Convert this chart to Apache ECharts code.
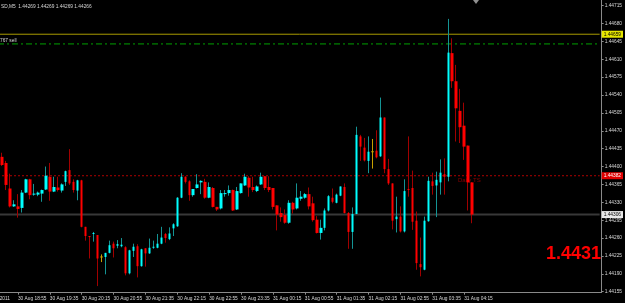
<!DOCTYPE html>
<html>
<head>
<meta charset="utf-8">
<script src="https://cdn.jsdelivr.net/npm/echarts@6/dist/echarts.min.js"></script>
<style>
  html, body { margin: 0; padding: 0; background: #000; }
  #chart { width: 625px; height: 303px; }
</style>
</head>
<body>
<div id="chart"></div>
<script>
// M5 bars, 30 Aug 18:35 -> 31 Aug 04:25
const openPrices = [
  1.44419, 1.44407, 1.44357, 1.44322, 1.44322, 1.44319, 1.44349, 1.44375, 1.44345, 1.44345,
  1.44347, 1.44355, 1.44380, 1.44351, 1.44359, 1.44353, 1.44370, 1.44393, 1.44370, 1.44353,
  1.44373, 1.44282, 1.44264, 1.44268, 1.44266, 1.44223, 1.44223, 1.44231, 1.44249, 1.44245,
  1.44244, 1.44242, 1.44191, 1.44235, 1.44244, 1.44205, 1.44240, 1.44230, 1.44241, 1.44241,
  1.44249, 1.44268, 1.44258, 1.44279, 1.44283, 1.44339, 1.44380, 1.44371, 1.44344, 1.44358,
  1.44369, 1.44370, 1.44339, 1.44358, 1.44321, 1.44318, 1.44346, 1.44348, 1.44354, 1.44316,
  1.44348, 1.44363, 1.44378, 1.44360, 1.44352, 1.44365, 1.44381, 1.44360, 1.44358, 1.44324,
  1.44309, 1.44305, 1.44290, 1.44329, 1.44318, 1.44337, 1.44339, 1.44346, 1.44328, 1.44296,
  1.44270, 1.44280, 1.44314, 1.44339, 1.44329, 1.44343, 1.44360, 1.44309, 1.44272, 1.44307,
  1.44459, 1.44437, 1.44411, 1.44429, 1.44431, 1.44420, 1.44496, 1.44395, 1.44367, 1.44297,
  1.44302, 1.44273, 1.44356, 1.44358, 1.44294, 1.44209, 1.44198, 1.44293, 1.44371, 1.44363,
  1.44369, 1.44385, 1.44380, 1.44622, 1.44567, 1.44509, 1.44480, 1.44441, 1.44369
];
const closePrices = [
  1.44403, 1.44364, 1.44322, 1.44326, 1.44317, 1.44349, 1.44375, 1.44344, 1.44347, 1.44349,
  1.44354, 1.44382, 1.44351, 1.44360, 1.44354, 1.44365, 1.44391, 1.44367, 1.44354, 1.44373,
  1.44282, 1.44264, 1.44262, 1.44270, 1.44220, 1.44223, 1.44231, 1.44246, 1.44240, 1.44248,
  1.44247, 1.44191, 1.44236, 1.44243, 1.44205, 1.44238, 1.44230, 1.44241, 1.44243, 1.44249,
  1.44261, 1.44260, 1.44269, 1.44287, 1.44339, 1.44380, 1.44370, 1.44344, 1.44356, 1.44365,
  1.44372, 1.44339, 1.44360, 1.44321, 1.44316, 1.44348, 1.44348, 1.44354, 1.44314, 1.44352,
  1.44367, 1.44380, 1.44359, 1.44354, 1.44361, 1.44380, 1.44358, 1.44354, 1.44321, 1.44306,
  1.44301, 1.44290, 1.44329, 1.44316, 1.44339, 1.44341, 1.44346, 1.44322, 1.44295, 1.44270,
  1.44280, 1.44314, 1.44342, 1.44331, 1.44345, 1.44361, 1.44309, 1.44272, 1.44307, 1.44462,
  1.44439, 1.44412, 1.44429, 1.44429, 1.44418, 1.44496, 1.44395, 1.44367, 1.44294, 1.44302,
  1.44273, 1.44352, 1.44354, 1.44292, 1.44211, 1.44203, 1.44294, 1.44372, 1.44362, 1.44374,
  1.44388, 1.44380, 1.44623, 1.44567, 1.44514, 1.44477, 1.44439, 1.44369, 1.44306
];
const lowPrices = [
  1.44401, 1.44354, 1.44320, 1.44321, 1.44300, 1.44310, 1.44348, 1.44336, 1.44343, 1.44342,
  1.44331, 1.44354, 1.44333, 1.44350, 1.44351, 1.44349, 1.44362, 1.44364, 1.44349, 1.44334,
  1.44281, 1.44255, 1.44220, 1.44253, 1.44166, 1.44213, 1.44189, 1.44230, 1.44222, 1.44240,
  1.44242, 1.44187, 1.44189, 1.44223, 1.44183, 1.44204, 1.44204, 1.44229, 1.44239, 1.44240,
  1.44248, 1.44251, 1.44256, 1.44264, 1.44282, 1.44338, 1.44367, 1.44333, 1.44341, 1.44357,
  1.44346, 1.44337, 1.44338, 1.44320, 1.44313, 1.44316, 1.44341, 1.44343, 1.44313, 1.44315,
  1.44347, 1.44362, 1.44341, 1.44350, 1.44350, 1.44364, 1.44354, 1.44350, 1.44316, 1.44275,
  1.44292, 1.44288, 1.44288, 1.44308, 1.44316, 1.44333, 1.44337, 1.44316, 1.44292, 1.44269,
  1.44257, 1.44275, 1.44312, 1.44328, 1.44328, 1.44342, 1.44308, 1.44239, 1.44239, 1.44307,
  1.44411, 1.44410, 1.44387, 1.44396, 1.44416, 1.44419, 1.44387, 1.44364, 1.44277, 1.44271,
  1.44271, 1.44271, 1.44341, 1.44276, 1.44198, 1.44185, 1.44197, 1.44292, 1.44345, 1.44301,
  1.44345, 1.44345, 1.44371, 1.44554, 1.44449, 1.44446, 1.44413, 1.44314, 1.44289
];
const highPrices = [
  1.44427, 1.44411, 1.44386, 1.44334, 1.44346, 1.44354, 1.44376, 1.44376, 1.44366, 1.44351,
  1.44355, 1.44400, 1.44407, 1.44380, 1.44380, 1.44367, 1.44392, 1.44434, 1.44375, 1.44374,
  1.44374, 1.44282, 1.44264, 1.44272, 1.44266, 1.44228, 1.44231, 1.44255, 1.44253, 1.44256,
  1.44260, 1.44244, 1.44237, 1.44249, 1.44248, 1.44239, 1.44240, 1.44259, 1.44255, 1.44268,
  1.44282, 1.44270, 1.44281, 1.44289, 1.44340, 1.44387, 1.44381, 1.44373, 1.44356, 1.44385,
  1.44373, 1.44376, 1.44369, 1.44360, 1.44321, 1.44354, 1.44354, 1.44363, 1.44355, 1.44360,
  1.44367, 1.44386, 1.44381, 1.44380, 1.44363, 1.44388, 1.44381, 1.44381, 1.44358, 1.44324,
  1.44320, 1.44316, 1.44334, 1.44331, 1.44367, 1.44352, 1.44348, 1.44359, 1.44341, 1.44303,
  1.44296, 1.44318, 1.44344, 1.44357, 1.44347, 1.44361, 1.44367, 1.44311, 1.44320, 1.44478,
  1.44462, 1.44456, 1.44459, 1.44454, 1.44471, 1.44535, 1.44496, 1.44415, 1.44367, 1.44341,
  1.44322, 1.44375, 1.44459, 1.44392, 1.44312, 1.44261, 1.44302, 1.44380, 1.44388, 1.44390,
  1.44414, 1.44416, 1.44689, 1.44651, 1.44599, 1.44552, 1.44525, 1.44441, 1.44369
];

// price axis ticks
const yMin = 1.44155;
const yMax = 1.44726;
const yStep = 0.00035;

// horizontal levels drawn on the chart
const levelYellow = 1.44659;
const levelGreen = 1.44640;
const levelRed = 1.44382;
const levelBid = 1.44306;

const headerText = 'SD,M5  1.44269 1.44269 1.44269 1.44266';
const sellText = '767 sell';
const dailyText = 'Daily TS';
const bigPriceText = '1.4431';
const firstDateText = '30 Aug 2011';

const slotCount = 151; // bars + empty chart shift on the right

const pad = n => (n < 10 ? '0' + n : '' + n);
const categories = [];
for (let i = 0; i < slotCount; i++) {
  if (i < openPrices.length) {
    const t = new Date(Date.UTC(2011, 7, 30, 18, 35 + 5 * i));
    categories.push(t.getUTCDate() + ' Aug ' + pad(t.getUTCHours()) + ':' + pad(t.getUTCMinutes()));
  } else {
    categories.push('');
  }
}

const UP = '#00ffff';
const DOWN = '#ff0000';
const UP_WICK = '#149494';
const DOWN_WICK = '#a00000';
const DOJI = '#c8a000';

const wickData = [];
const bodyData = [];
openPrices.forEach((o, i) => {
  const c = closePrices[i];
  const w = { value: [o, c, lowPrices[i], highPrices[i]] };
  const b = { value: [o, c, Math.min(o, c), Math.max(o, c)] };
  if (o === c) {
    w.itemStyle = { color: DOJI, color0: DOJI, borderColor: DOJI, borderColor0: DOJI };
    b.itemStyle = { color: DOJI, color0: DOJI, borderColor: DOJI, borderColor0: DOJI, borderWidth: 1 };
  }
  wickData.push(w);
  bodyData.push(b);
});

const FONT = 'Liberation Sans';
const tickShown = (idx, val) => val !== '' && idx >= 4 && (idx - 4) % 8 === 0;

// a horizontal level across the whole chart, with its price box on the axis
function levelSeries (name, value, lineStyle, box) {
  return {
    name: name,
    type: 'line',
    z: 1,
    silent: true,
    symbol: 'none',
    data: [[-1, value], [slotCount - 1, value]],
    lineStyle: lineStyle,
    endLabel: box ? {
      show: true,
      distance: 2,
      formatter: () => value.toFixed(5),
      backgroundColor: box.bg,
      color: box.fg,
      fontSize: 4.8,
      fontFamily: FONT,
      padding: [1, 2, 1, 2]
    } : { show: false }
  };
}

const chart = echarts.init(document.getElementById('chart'));
chart.setOption({
  backgroundColor: '#000',
  animation: false,
  grid: { left: -0.5, right: 22, top: 0, bottom: 11.3 },
  xAxis: {
    type: 'category',
    data: categories,
    boundaryGap: true,
    offset: 1,
    axisLine: { lineStyle: { color: '#8a8a8a', width: 1 } },
    axisTick: { show: true, interval: tickShown, alignWithLabel: true, length: 2, lineStyle: { color: '#8a8a8a' } },
    axisLabel: {
      interval: tickShown,
      align: 'left',
      color: '#d8d8d8',
      fontSize: 4.8,
      fontFamily: FONT,
      margin: 3
    },
    splitLine: { show: false }
  },
  yAxis: {
    type: 'value',
    position: 'right',
    min: yMin,
    max: yMax,
    interval: yStep,
    axisLine: { show: true, lineStyle: { color: '#8a8a8a', width: 1 } },
    axisTick: { show: true, length: 2, lineStyle: { color: '#8a8a8a' } },
    axisLabel: {
      showMaxLabel: false,
      color: '#d8d8d8',
      fontSize: 4.8,
      fontFamily: FONT,
      margin: 3,
      formatter: v => v.toFixed(5)
    },
    splitLine: { show: false }
  },
  series: [
    levelSeries('yellow', levelYellow, { color: '#a89a00', width: 1 }, { bg: '#e6e600', fg: '#000' }),
    levelSeries('green', levelGreen, { color: '#00a000', width: 1, type: [6, 3, 2, 3] }, null),
    levelSeries('daily', levelRed, { color: '#b00000', width: 1, type: [2, 2] }, { bg: '#e00000', fg: '#fff' }),
    levelSeries('bid', levelBid, { color: '#383838', width: 2 }, { bg: '#e8e8e8', fg: '#000' }),
    {
      name: 'wicks',
      type: 'candlestick',
      z: 2,
      barWidth: 1,
      data: wickData,
      itemStyle: { color: UP_WICK, color0: DOWN_WICK, borderColor: UP_WICK, borderColor0: DOWN_WICK, borderWidth: 1 }
    },
    {
      name: 'bodies',
      type: 'candlestick',
      z: 3,
      barWidth: 3,
      data: bodyData,
      itemStyle: { color: UP, color0: DOWN, borderColor: UP, borderColor0: DOWN, borderWidth: 0 }
    }
  ],
  graphic: [
    { type: 'text', z: 10, x: 1, y: 7, style: { text: headerText, fill: '#d8d8d8', fontSize: 4.8, fontFamily: FONT, verticalAlign: 'middle' } },
    { type: 'text', z: 10, x: 0, y: 41, style: { text: sellText, fill: '#d8d8d8', fontSize: 4.8, fontFamily: FONT, verticalAlign: 'middle' } },
    { type: 'text', z: 0, x: 458, y: 180, style: { text: dailyText, fill: '#8a0000', fontSize: 6, fontFamily: FONT, verticalAlign: 'middle' } },
    { type: 'text', z: 10, x: 601, y: 254, style: { text: bigPriceText, fill: '#ff0000', fontSize: 18, fontWeight: 'bold', fontFamily: FONT, align: 'right', verticalAlign: 'middle' } },
    { type: 'text', z: 10, x: 10, y: 299, style: { text: firstDateText, fill: '#d8d8d8', fontSize: 4.8, fontFamily: FONT, align: 'right', verticalAlign: 'middle' } },
    { type: 'polygon', z: 10, shape: { points: [[473, 0], [479, 0], [476, 4]] }, style: { fill: '#909090' } }
  ]
});
</script>
</body>
</html>
